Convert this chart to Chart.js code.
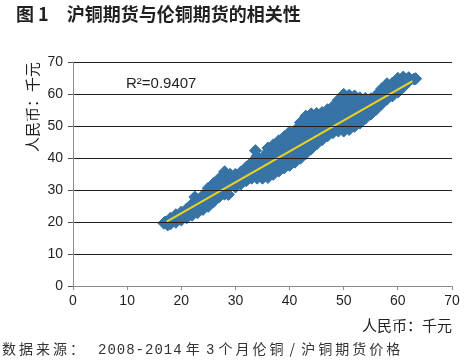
<!DOCTYPE html>
<html><head><meta charset="utf-8">
<script src="https://cdn.jsdelivr.net/npm/chart.js@4.4.0/dist/chart.umd.min.js"></script>
<style>
html,body{margin:0;padding:0;background:#fff;}
#wrap{position:relative;width:473px;height:363px;overflow:hidden;background:#fff;}
canvas{position:absolute;left:0;top:0;}
#title{position:absolute;left:16px;top:3px;font:bold 18px/20px "Noto Sans CJK SC";color:#231f20;white-space:pre;}
#r2{position:absolute;left:126px;top:74px;font:15px/18px "Liberation Sans";color:#231f20;white-space:pre;}
#src{position:absolute;left:2px;top:340px;font:14px/16px "Noto Sans CJK SC";letter-spacing:3px;word-spacing:-3px;color:#333;white-space:pre;}
#src .m{font-family:"Liberation Mono";letter-spacing:1px;}
#src .d{margin-left:11px;}
</style></head>
<body>
<div id="wrap">
<canvas id="c" width="473" height="363"></canvas>
<div id="title">图 1　沪铜期货与伦铜期货的相关性</div>
<div id="r2">R²=0.9407</div>
<div id="src">数据来源：<span class="m d">2008-2014</span> 年 <span class="m">3</span> 个月伦铜 / 沪铜期货价格</div>
</div>
<script>
// [LME copper (CNY thousand), SHFE copper (CNY thousand)]
const copperPairs = [
 [16.8,19.6],[17,20],[17.5,19.1],
 [18,19.4],[18,21.2],
 [19,19.9],[19,21],[19,22.3],
 [20,20.6],[20,22],[20,23.1],
 [21,21.3],[21,23],[21,24.1],
 [22,22.1],[22,24],[22,25.6],[22.5,27.8],
 [23,22.9],[23,24.7],[23,26.6],
 [24,23.9],[24,26],[24,28.3],
 [25,24.9],[25,27],[25,29],[25,30.6],
 [26,26.4],[26,28],[26,30],[26,32.1],
 [27,27.9],[27,29.5],[27,31.5],[27,33.6],
 [28,28.7],[28,31],[28,33],[28,34.6],[28,35.7],
 [28.7,28.6],[29,31.5],[29,33.5],[29,34.9],
 [30,30.9],[30,33],[30,34.9],
 [31,31.9],[31,33.8],[31,35.6],
 [32,32.9],[32,35],[32,37.1],
 [33,33.7],[33,35.5],[33,37.5],[33,38.6],[33.7,42.3],
 [34,33.7],[34,35.5],[34,37.5],[34,39.5],[34,40.6],
 [35,33.7],[35,35],[35,37],[35,39],[35,40.1],
 [36,33.9],[36,36],[36,38],[36,40],[36,42],[36,43.1],
 [37,34.9],[37,37],[37,39],[37,41],[37,43],[37,44.1],
 [38,35.9],[38,38],[38,40],[38,42],[38,44],[38,45.4],
 [39,36.9],[39,39],[39,41],[39,43],[39,45],[39,46.6],
 [40,37.7],[40,40],[40,42],[40,44],[40,46],[40,48.1],
 [41,38.7],[41,41],[41,43],[41,45],[41,47],[41,48.6],
 [42,39.9],[42,42],[42,44],[42,46],[42,48],[42,50],[42,51.1],
 [43,41.4],[43,43],[43,45],[43,47],[43,49],[43,51],[43,53.1],
 [44,42.9],[44,44.4],[44,46],[44,48],[44,50],[44,52],[44,53.8],
 [45,44.4],[45,45.8],[45,47],[45,49],[45,51],[45,53],[45,53.9],
 [46,45.7],[46,47.5],[46,49.5],[46,51.5],[46,53.5],[46,54.2],
 [47,46.9],[47,48.5],[47,50.5],[47,52.5],[47,54],[47,55.1],
 [48,47.9],[48,49.5],[48,51.5],[48,53.5],[48,55],[48,56.1],
 [49,48.4],[49,50],[49,52],[49,54],[49,56],[49,58.1],
 [50,48.4],[50,50.5],[50,52.5],[50,54.5],[50,56.5],[50,58.5],[50,59.9],
 [51,48.9],[51,51],[51,53],[51,55],[51,57],[51,58.5],[51,59.6],
 [52,49.9],[52,52],[52,54],[52,56],[52,58],[52,59.4],
 [53,50.9],[53,53],[53,55],[53,57],[53,58.8],
 [54,52.4],[54,54.2],[54,56.3],[54,58.6],
 [55,53.7],[55,55.5],[55,57.5],[55,58.5],
 [56,55.2],[56,57],[56,59],[56,59.6],
 [57,56.9],[57,58.7],[57,60.7],[57,61.6],
 [58,58.4],[58,60.3],[58,62.3],[58,63.2],
 [59,59.4],[59,61.5],[59,63.4],
 [60,60.6],[60,62.5],[60,64.3],[60,64.9],
 [61,62.2],[61,64],[61,65.3],
 [62,63.9],[62,65.1],
 [63,64.7],[63.3,64.8]
];
const trendX = [17.3, 62.7];
const trendY = [20.1, 64.0];
const xTickValues = [0, 10, 20, 30, 40, 50, 60, 70];
const yTickValues = [0, 10, 20, 30, 40, 50, 60, 70];
const axisTitle = '人民币：千元';

const scatterData = copperPairs.map(p => ({x: p[0], y: p[1]}));
const trendData = trendX.map((x, i) => ({x: x, y: trendY[i]}));

const ink = '#231f20';
const axisGray = '#8c8c8c';
const tickFont = {family: 'Liberation Sans', size: 14};
const titleFont = {family: 'Noto Sans CJK SC', size: 15};

new Chart(document.getElementById('c'), {
  type: 'scatter',
  data: {
    datasets: [
      {
        type: 'line',
        data: trendData,
        borderColor: '#ecd21e',
        borderWidth: 2,
        pointRadius: 0,
        fill: false,
        tension: 0
      },
      {
        data: scatterData,
        pointStyle: 'rectRot',
        pointRadius: 6,
        borderWidth: 1,
        backgroundColor: '#3773a5',
        borderColor: '#3773a5',
        showLine: false
      }
    ]
  },
  options: {
    responsive: false,
    animation: false,
    devicePixelRatio: 1,
    layout: {padding: {left: 20, right: 21, top: 62, bottom: 29}},
    plugins: {legend: {display: false}, tooltip: {enabled: false}},
    scales: {
      x: {
        type: 'linear',
        min: 0, max: 70,
        afterBuildTicks: s => { s.ticks = xTickValues.map(v => ({value: v})); },
        afterFit: s => { s.height = 48; },
        ticks: {color: ink, font: tickFont, padding: 3, maxRotation: 0},
        grid: {drawOnChartArea: false, drawTicks: true, tickLength: 4, color: axisGray},
        border: {display: true, color: axisGray, width: 1},
        title: {display: true, text: axisTitle, align: 'end', color: ink, font: titleFont, padding: {top: 0, bottom: 0}}
      },
      y: {
        type: 'linear',
        min: 0, max: 70,
        afterBuildTicks: s => { s.ticks = yTickValues.map(v => ({value: v})); },
        afterFit: s => { s.width = 53; },
        ticks: {color: ink, font: tickFont, padding: 5},
        grid: {
          z: 1,
          drawTicks: true,
          tickLength: 5,
          color: c => (c.tick && c.tick.value === 0) ? axisGray : ink,
          tickColor: '#555'
        },
        border: {display: true, color: axisGray, width: 1, z: 1},
        title: {display: true, text: axisTitle, align: 'end', color: ink, font: titleFont, padding: {top: 3, bottom: 0}}
      }
    }
  }
});
</script>
</body></html>
